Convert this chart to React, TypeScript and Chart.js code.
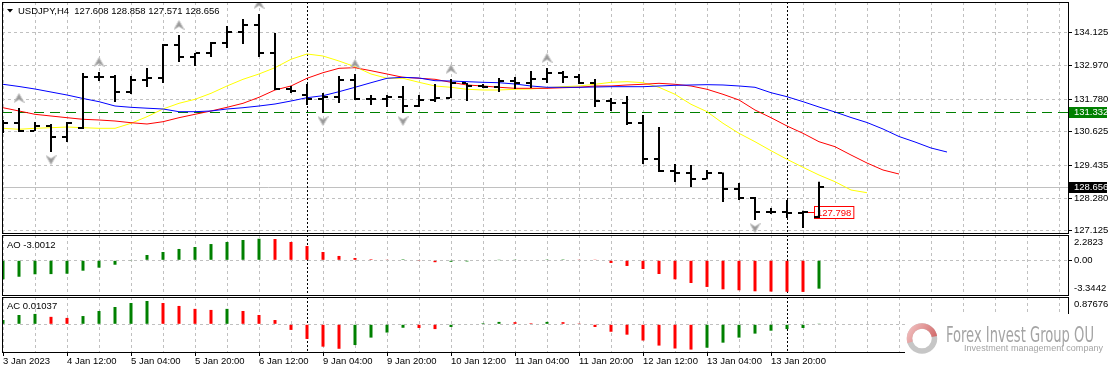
import React, { useEffect, useRef } from 'react';
import { Chart, registerables } from 'chart.js';

Chart.register(...registerables);

// ---------------- data ----------------
const symbol = 'USDJPY';
const timeframe = 'H4';

const open = [130.932, 130.932, 130.650, 130.826, 130.437, 130.756, 132.559, 132.560, 132.028, 132.453,
  132.523, 133.690, 133.266, 133.407, 133.761, 134.150, 134.397, 133.407, 132.134, 131.922,
  131.781, 131.852, 132.453, 131.781, 131.790, 131.852, 131.533, 131.746, 131.816, 132.347,
  132.241, 132.205, 132.417, 132.347, 132.488, 132.700, 132.559, 132.347, 131.710, 131.640,
  130.932, 129.660, 129.235, 129.165, 128.953, 129.165, 128.599, 128.280, 127.786, 127.790,
  127.751, 127.608];
const high = [131.039, 131.463, 130.968, 130.897, 130.968, 132.700, 132.736, 132.630, 132.594, 132.877,
  133.725, 134.044, 133.407, 133.796, 134.362, 134.609, 134.786, 134.114, 132.241, 132.311,
  131.993, 132.594, 132.665, 131.922, 131.922, 132.241, 131.922, 132.311, 132.488, 132.347,
  132.311, 132.523, 132.559, 132.771, 132.877, 132.771, 132.665, 132.488, 131.816, 131.887,
  131.215, 130.791, 129.483, 129.448, 129.271, 129.180, 128.811, 128.316, 127.927, 128.210,
  127.830, 128.858];
const low = [130.579, 130.614, 130.650, 129.907, 130.261, 130.720, 132.417, 131.675, 131.958, 132.205,
  132.347, 133.089, 132.948, 133.266, 133.584, 133.725, 133.266, 132.099, 131.993, 131.569,
  131.286, 131.640, 131.746, 131.569, 131.498, 131.286, 131.498, 131.675, 131.816, 131.710,
  132.170, 132.028, 132.134, 132.170, 132.347, 132.347, 132.311, 131.498, 131.357, 130.862,
  129.483, 129.200, 128.847, 128.670, 128.940, 128.139, 128.210, 127.503, 127.715, 127.574,
  127.220, 127.571];
const close = [130.932, 130.650, 130.826, 130.437, 130.932, 132.559, 132.560, 132.028, 132.453, 132.523,
  133.690, 133.266, 133.407, 133.761, 134.150, 134.397, 133.407, 132.134, 132.064, 131.781,
  131.852, 132.453, 131.781, 131.790, 131.852, 131.533, 131.746, 131.816, 132.347, 132.241,
  132.205, 132.417, 132.347, 132.488, 132.700, 132.559, 132.347, 131.710, 131.640, 130.932,
  129.660, 129.235, 129.165, 128.953, 129.165, 128.599, 128.280, 127.786, 127.790, 127.751,
  127.798, 128.656];

// Alligator (already shifted forward: jaw 8, teeth 5, lips 3 bars)
const jaw = [132.301, 132.223, 132.134, 132.028, 131.922, 131.799, 131.686, 131.533, 131.487, 131.456,
  131.427, 131.332, 131.332, 131.357, 131.427, 131.473, 131.533, 131.604, 131.710, 131.827,
  131.898, 132.039, 132.195, 132.357, 132.513, 132.548, 132.523, 132.428, 132.417, 132.393,
  132.371, 132.357, 132.311, 132.241, 132.195, 132.195, 132.195, 132.205, 132.216, 132.216,
  132.216, 132.241, 132.265, 132.276, 132.287, 132.276, 132.241, 132.195, 132.004, 131.862,
  131.686, 131.498, 131.321, 131.127, 130.950, 130.720, 130.455, 130.261, 130.049, 129.907];
const teeth = [131.473, 131.357, 131.240, 131.180, 131.120, 131.063, 131.039, 131.003, 130.943, 130.897,
  130.978, 131.120, 131.240, 131.357, 131.487, 131.629, 131.841, 132.099, 132.241, 132.513,
  132.711, 132.866, 132.888, 132.781, 132.665, 132.548, 132.513, 132.477, 132.371, 132.276,
  132.241, 132.195, 132.159, 132.159, 132.159, 132.180, 132.195, 132.241, 132.241, 132.276,
  132.301, 132.336, 132.301, 132.241, 132.124, 131.947, 131.746, 131.392, 131.120, 130.826,
  130.568, 130.271, 130.095, 129.801, 129.518, 129.271, 129.129];
const lips = [130.745, 130.710, 130.745, 130.766, 130.791, 130.766, 130.745, 130.745, 130.922, 131.155,
  131.427, 131.629, 131.770, 131.982, 132.241, 132.477, 132.665, 132.888, 133.185, 133.372,
  133.301, 133.124, 132.923, 132.665, 132.513, 132.513, 132.371, 132.241, 132.195, 132.124,
  132.099, 132.099, 132.124, 132.134, 132.180, 132.216, 132.241, 132.301, 132.371, 132.393,
  132.357, 132.195, 131.947, 131.594, 131.332, 130.922, 130.568, 130.271, 129.953, 129.649,
  129.366, 129.094, 128.857, 128.564, 128.468];

const fractalUpBars = [1, 6, 11, 16, 22, 28, 34];
const fractalDownBars = [3, 20, 25, 47];

const ao = [-2.01, -1.74, -1.48, -1.46, -1.42, -1.10, -0.78, -0.47, -0.04, 0.56,
  0.88, 1.20, 1.41, 1.72, 1.94, 2.15, 2.2823, 2.25, 1.94, 1.51,
  0.88, 0.46, 0.24, 0.11, 0.07, 0.10, -0.03, -0.20, -0.15, -0.12,
  -0.05, 0.02, 0.03, 0.05, 0.08, 0.09, 0.07, 0.03, -0.28, -0.60,
  -0.92, -1.45, -2.01, -2.40, -2.82, -3.07, -3.17, -3.28, -3.31, -3.33,
  -3.3442, -3.0012];
const ac = [0.16, 0.35, 0.39, 0.28, 0.24, 0.31, 0.50, 0.65, 0.80, 0.87676,
  0.80, 0.69, 0.58, 0.54, 0.58, 0.50, 0.35, 0.16, -0.21, -0.55,
  -0.84, -0.92, -0.78, -0.50, -0.31, -0.13, -0.14, -0.18, -0.10, -0.02,
  0.04, 0.09, 0.08, 0.04, 0.09, 0.08, 0.03, -0.10, -0.28, -0.39,
  -0.61, -0.80, -0.91, -0.95, -0.88, -0.69, -0.50, -0.35, -0.24, -0.18,
  -0.14, 0.01037];

const timeLabelBars = [0, 4, 8, 12, 16, 20, 24, 28, 32, 36, 40, 44, 48];
const timeLabels = ['3 Jan 2023', '4 Jan 12:00', '5 Jan 04:00', '5 Jan 20:00', '6 Jan 12:00', '9 Jan 04:00',
  '9 Jan 20:00', '10 Jan 12:00', '11 Jan 04:00', '11 Jan 20:00', '12 Jan 12:00', '13 Jan 04:00', '13 Jan 20:00'];
const priceTicks = [127.125, 128.28, 129.435, 130.625, 131.78, 132.97, 134.125];
const levelPrice = 131.332;
const markPrice = 127.798;
const markBar = 50;
const separatorBars = [19, 49];

// ---------------- layout / style ----------------
const W = 1114;
const H = 373;
const X_MIN = -0.0625;
const X_MAX = 66.5625;
const AXIS_W = 46;
const FAMILY = "'Liberation Sans', Arial, sans-serif";
const FS = 9.5;
const FONT = `${FS}px ${FAMILY}`;
const GRID = '#c0c0c0';
const GREEN = '#008000';
const RED = '#ff0000';
const gridBars = Array.from({ length: 34 }, (_, k) => 2 * k);

const MAIN_P = { top: 2, bottom: 233, min: 127.044, max: 135.21 };
const AO_P = { top: 235, bottom: 295, min: -3.672, max: 2.677 };
const AC_P = { top: 297, bottom: 352, min: -1.041, max: 1.026 };

function xScale(showLabels: boolean) {
  return {
    type: 'linear',
    position: 'bottom',
    min: X_MIN,
    max: X_MAX,
    offset: false,
    bounds: 'data',
    afterBuildTicks: (s: any) => { s.ticks = gridBars.map((v) => ({ value: v })); },
    afterFit: (s: any) => { s.height = showLabels ? 21 : 0; s.paddingLeft = 0; s.paddingRight = 0; },
    grid: {
      color: GRID,
      lineWidth: 1,
      offset: false,
      drawTicks: showLabels,
      tickLength: 4,
      tickBorderDash: [],
      tickColor: (c: any) => (c.tick && timeLabelBars.includes(c.tick.value) ? '#000' : 'rgba(0,0,0,0)'),
    },
    border: { display: false, dash: [3, 3] },
    ticks: {
      display: showLabels,
      autoSkip: false,
      maxRotation: 0,
      minRotation: 0,
      align: 'start',
      padding: 0,
      color: '#000',
      font: { family: FAMILY, size: FS },
      callback: (v: any) => {
        const k = timeLabelBars.indexOf(Number(v));
        return k >= 0 ? timeLabels[k] : '';
      },
    },
  };
}

function subYScale(p: any) {
  return {
    type: 'linear',
    position: 'right',
    min: p.min,
    max: p.max,
    bounds: 'data',
    afterBuildTicks: (s: any) => { s.ticks = [{ value: 0 }]; },
    afterFit: (s: any) => { s.width = AXIS_W; s.paddingTop = 0; s.paddingBottom = 0; },
    grid: { color: GRID, tickLength: 4, tickColor: '#000', tickBorderDash: [] },
    border: { display: false, dash: [3, 3] },
    ticks: { display: false },
  };
}

function drawBorder(ctx: CanvasRenderingContext2D, a: any) {
  ctx.save();
  ctx.strokeStyle = '#000';
  ctx.lineWidth = 1;
  ctx.setLineDash([]);
  ctx.strokeRect(Math.round(a.left) + 0.5, Math.round(a.top) + 0.5,
    Math.round(a.right - a.left), Math.round(a.bottom - a.top));
  ctx.restore();
}

function drawSeparators(chart: any) {
  const { ctx, chartArea: a, scales: { x } } = chart;
  ctx.save();
  ctx.strokeStyle = '#000';
  ctx.lineWidth = 1;
  ctx.setLineDash([2, 2]);
  separatorBars.forEach((b) => {
    const px = Math.round(x.getPixelForValue(b)) + 0.5;
    ctx.beginPath();
    ctx.moveTo(px, a.top);
    ctx.lineTo(px, a.bottom);
    ctx.stroke();
  });
  ctx.restore();
}

function drawWatermark(ctx: any) {
  ctx.save();
  ctx.fillStyle = '#ffffff';
  ctx.fillRect(905, 314, 209, 59);
  const cx = 922;
  const cy = 338.5;
  ctx.lineWidth = 5.5;
  ctx.strokeStyle = '#c6c6c6';
  ctx.beginPath();
  ctx.arc(cx, cy, 12.5, 0, Math.PI * 2);
  ctx.stroke();
  const grad = ctx.createLinearGradient(cx - 14, cy - 14, cx + 12, cy + 2);
  grad.addColorStop(0, '#f2c4c4');
  grad.addColorStop(1, '#d26a6a');
  ctx.strokeStyle = grad;
  ctx.beginPath();
  ctx.arc(cx, cy, 12.5, Math.PI * 0.9, Math.PI * 1.95);
  ctx.stroke();
  ctx.fillStyle = '#a4a4a4';
  ctx.textAlign = 'left';
  ctx.textBaseline = 'alphabetic';
  ctx.font = `21px 'Liberation Sans Narrow', 'DejaVu Sans Condensed', 'Liberation Sans', sans-serif`;
  ctx.fillText('Forex Invest Group OU', 946, 342, 148);
  ctx.font = `9px ${FAMILY}`;
  const sub = 'Investment management company';
  const w = ctx.measureText(sub).width;
  if ('letterSpacing' in ctx) ctx.letterSpacing = `${Math.max(0, (139 - w) / (sub.length - 1))}px`;
  ctx.fillText(sub, 964, 350.5);
  ctx.restore();
}

const last = close.length - 1;

const mainDecor = {
  id: 'mainDecor',
  beforeDatasetsDraw(chart: any) {
    const { ctx, chartArea: a, scales: { x, y } } = chart;
    ctx.save();
    ctx.beginPath();
    ctx.rect(a.left, a.top, a.right - a.left, a.bottom - a.top);
    ctx.clip();
    ctx.lineWidth = 1;
    // current price line
    const yc = Math.round(y.getPixelForValue(close[last])) + 0.5;
    ctx.strokeStyle = GRID;
    ctx.setLineDash([]);
    ctx.beginPath(); ctx.moveTo(a.left, yc); ctx.lineTo(a.right, yc); ctx.stroke();
    // horizontal level
    const yl = Math.round(y.getPixelForValue(levelPrice)) + 0.5;
    ctx.strokeStyle = GREEN;
    ctx.setLineDash([10, 6]);
    ctx.beginPath(); ctx.moveTo(a.left, yl); ctx.lineTo(a.right, yl); ctx.stroke();
    ctx.setLineDash([]);
    // price mark
    const ym = Math.round(y.getPixelForValue(markPrice)) + 0.5;
    const xm = x.getPixelForValue(markBar);
    ctx.font = FONT;
    const txt = markPrice.toFixed(3);
    const tw = ctx.measureText(txt).width;
    ctx.strokeStyle = RED;
    ctx.beginPath(); ctx.moveTo(xm, ym); ctx.lineTo(xm + 11, ym); ctx.stroke();
    const bx = Math.round(xm + 11) + 0.5;
    ctx.fillStyle = '#fff';
    ctx.fillRect(bx, ym - 6, tw + 5, 12);
    ctx.strokeRect(bx, ym - 6, tw + 5, 12);
    ctx.fillStyle = RED;
    ctx.textBaseline = 'middle';
    ctx.textAlign = 'left';
    ctx.fillText(txt, bx + 2.5, ym + 0.5);
    ctx.restore();
    drawSeparators(chart);
  },
  afterDraw(chart: any) {
    const { ctx, chartArea: a, scales: { y } } = chart;
    drawBorder(ctx, a);
    ctx.save();
    // title
    ctx.fillStyle = '#000';
    ctx.beginPath();
    ctx.moveTo(7, 9); ctx.lineTo(13, 9); ctx.lineTo(10, 12.5); ctx.closePath(); ctx.fill();
    ctx.font = FONT;
    ctx.textBaseline = 'middle';
    ctx.textAlign = 'left';
    const title = `${symbol},${timeframe}  ${[open[last], high[last], low[last], close[last]].map((v) => v.toFixed(3)).join(' ')}`;
    ctx.fillText(title, 18, 11);
    // axis boxes
    const box = (price: number, bg: string) => {
      const py = y.getPixelForValue(price);
      const top = Math.round(py - 5);
      ctx.fillStyle = bg;
      ctx.fillRect(a.right + 1, top, 38, 11);
      ctx.fillStyle = '#fff';
      ctx.fillText(price.toFixed(3), a.right + 6, top + 5.5);
    };
    box(levelPrice, GREEN);
    box(close[last], '#000');
    ctx.restore();
  },
};

function subDecor(id: string, name: string, values: number[], digits: number, titleY: number, watermark: boolean) {
  return {
    id,
    beforeDatasetsDraw(chart: any) { drawSeparators(chart); },
    afterDraw(chart: any) {
      const { ctx, chartArea: a, scales: { y } } = chart;
      drawBorder(ctx, a);
      ctx.save();
      ctx.font = FONT;
      ctx.fillStyle = '#000';
      ctx.textBaseline = 'middle';
      ctx.textAlign = 'left';
      ctx.fillText(`${name} ${values[values.length - 1].toFixed(digits)}`, 7, titleY);
      const labels = [Math.max(...values), 0, Math.min(...values)];
      labels.forEach((v) => {
        const py = Math.min(Math.max(y.getPixelForValue(v), a.top + 7.5), a.bottom - 6.5);
        ctx.fillText(v === 0 ? '0.00' : v.toFixed(digits), a.right + 6, py);
      });
      ctx.restore();
      if (watermark) drawWatermark(ctx);
    },
  };
}

function histColors(vals: number[]) {
  return vals.map((v, i) => (i === 0 || v > vals[i - 1] ? GREEN : RED));
}

function makeCanvas(w: number, h: number, draw: (g: CanvasRenderingContext2D) => void) {
  const c = document.createElement('canvas');
  c.width = w;
  c.height = h;
  draw(c.getContext('2d') as CanvasRenderingContext2D);
  return c;
}

const baseOptions = (pad: any) => ({
  responsive: false,
  animation: false,
  devicePixelRatio: 1,
  events: [],
  layout: { padding: pad, autoPadding: false },
  plugins: { legend: { display: false }, tooltip: { enabled: false } },
});

export default function App() {
  const mainRef = useRef<HTMLCanvasElement>(null);
  const aoRef = useRef<HTMLCanvasElement>(null);
  const acRef = useRef<HTMLCanvasElement>(null);

  useEffect(() => {
    document.body.style.margin = '0';
    const openTick = makeCanvas(10, 2, (g) => { g.fillStyle = '#000'; g.fillRect(0, 0, 4, 2); });
    const closeTick = makeCanvas(10, 2, (g) => { g.fillStyle = '#000'; g.fillRect(6, 0, 4, 2); });
    const upArrow = makeCanvas(11, 30, (g) => {
      g.fillStyle = '#9a9a9a';
      g.strokeStyle = '#c4c4c4';
      g.lineWidth = 1;
      g.beginPath();
      g.moveTo(5.5, 0.5); g.lineTo(10.5, 9.5); g.lineTo(5.5, 6.5); g.lineTo(0.5, 9.5); g.closePath();
      g.fill(); g.stroke();
    });
    const downArrow = makeCanvas(11, 26, (g) => {
      g.fillStyle = '#9a9a9a';
      g.strokeStyle = '#c4c4c4';
      g.lineWidth = 1;
      g.beginPath();
      g.moveTo(5.5, 25.5); g.lineTo(10.5, 16.5); g.lineTo(5.5, 19.5); g.lineTo(0.5, 16.5); g.closePath();
      g.fill(); g.stroke();
    });

    const pts = (arr: number[]) => arr.map((v, i) => ({ x: i, y: v }));

    const mainChart = new Chart(mainRef.current as HTMLCanvasElement, {
      type: 'line',
      data: {
        datasets: [
          { type: 'line', label: 'Jaw', data: pts(jaw), borderColor: '#0000ff', borderWidth: 1, pointRadius: 0, tension: 0, order: 5 },
          { type: 'line', label: 'Teeth', data: pts(teeth), borderColor: '#ff0000', borderWidth: 1, pointRadius: 0, tension: 0, order: 5 },
          { type: 'line', label: 'Lips', data: pts(lips), borderColor: '#ffff00', borderWidth: 1, pointRadius: 0, tension: 0, order: 5 },
          { type: 'bar', label: 'Range', data: high.map((h, i) => ({ x: i, y: [low[i], h] })), backgroundColor: '#000', borderWidth: 0, barThickness: 2, inflateAmount: 0, order: 2 },
          { type: 'line', label: 'Open', data: pts(open), showLine: false, pointStyle: openTick, pointRadius: 3, order: 1 },
          { type: 'line', label: 'Close', data: pts(close), showLine: false, pointStyle: closeTick, pointRadius: 3, order: 1 },
          { type: 'line', label: 'Fractal up', data: fractalUpBars.map((i) => ({ x: i, y: high[i] })), showLine: false, pointStyle: upArrow, pointRadius: 4, order: 0 },
          { type: 'line', label: 'Fractal down', data: fractalDownBars.map((i) => ({ x: i, y: low[i] })), showLine: false, pointStyle: downArrow, pointRadius: 4, order: 0 },
        ],
      } as any,
      options: {
        ...baseOptions({ left: 2, top: MAIN_P.top, right: 0, bottom: H - MAIN_P.bottom }),
        scales: {
          x: xScale(false),
          y: {
            type: 'linear',
            position: 'right',
            min: MAIN_P.min,
            max: MAIN_P.max,
            bounds: 'data',
            afterBuildTicks: (s: any) => { s.ticks = priceTicks.map((v) => ({ value: v })); },
            afterFit: (s: any) => { s.width = AXIS_W; s.paddingTop = 0; s.paddingBottom = 0; },
            grid: { color: GRID, tickLength: 4, tickColor: '#000', tickBorderDash: [] },
            border: { display: false, dash: [3, 3] },
            ticks: { padding: 2, color: '#000', font: { family: FAMILY, size: FS }, callback: (v: any) => Number(v).toFixed(3) },
          },
        },
      } as any,
      plugins: [mainDecor],
    });

    const aoChart = new Chart(aoRef.current as HTMLCanvasElement, {
      type: 'bar',
      data: {
        datasets: [{ type: 'bar', label: 'AO', data: pts(ao), backgroundColor: histColors(ao), borderWidth: 0, barThickness: 3, inflateAmount: 0 }],
      } as any,
      options: {
        ...baseOptions({ left: 2, top: AO_P.top, right: 0, bottom: H - AO_P.bottom }),
        scales: { x: xScale(false), y: subYScale(AO_P) },
      } as any,
      plugins: [subDecor('aoDecor', 'AO', ao, 4, 245, false)],
    });

    const acChart = new Chart(acRef.current as HTMLCanvasElement, {
      type: 'bar',
      data: {
        datasets: [{ type: 'bar', label: 'AC', data: pts(ac), backgroundColor: histColors(ac), borderWidth: 0, barThickness: 3, inflateAmount: 0 }],
      } as any,
      options: {
        ...baseOptions({ left: 2, top: AC_P.top, right: 0, bottom: 0 }),
        scales: { x: xScale(true), y: subYScale(AC_P) },
      } as any,
      plugins: [subDecor('acDecor', 'AC', ac, 5, 306, true)],
    });

    return () => {
      mainChart.destroy();
      aoChart.destroy();
      acChart.destroy();
    };
  }, []);

  const cs: React.CSSProperties = { position: 'absolute', left: 0, top: 0 };
  return (
    <div style={{ position: 'fixed', left: 0, top: 0, width: W, height: H, background: '#fff', overflow: 'hidden' }}>
      <canvas ref={mainRef} width={W} height={H} style={cs} />
      <canvas ref={aoRef} width={W} height={H} style={cs} />
      <canvas ref={acRef} width={W} height={H} style={cs} />
    </div>
  );
}
